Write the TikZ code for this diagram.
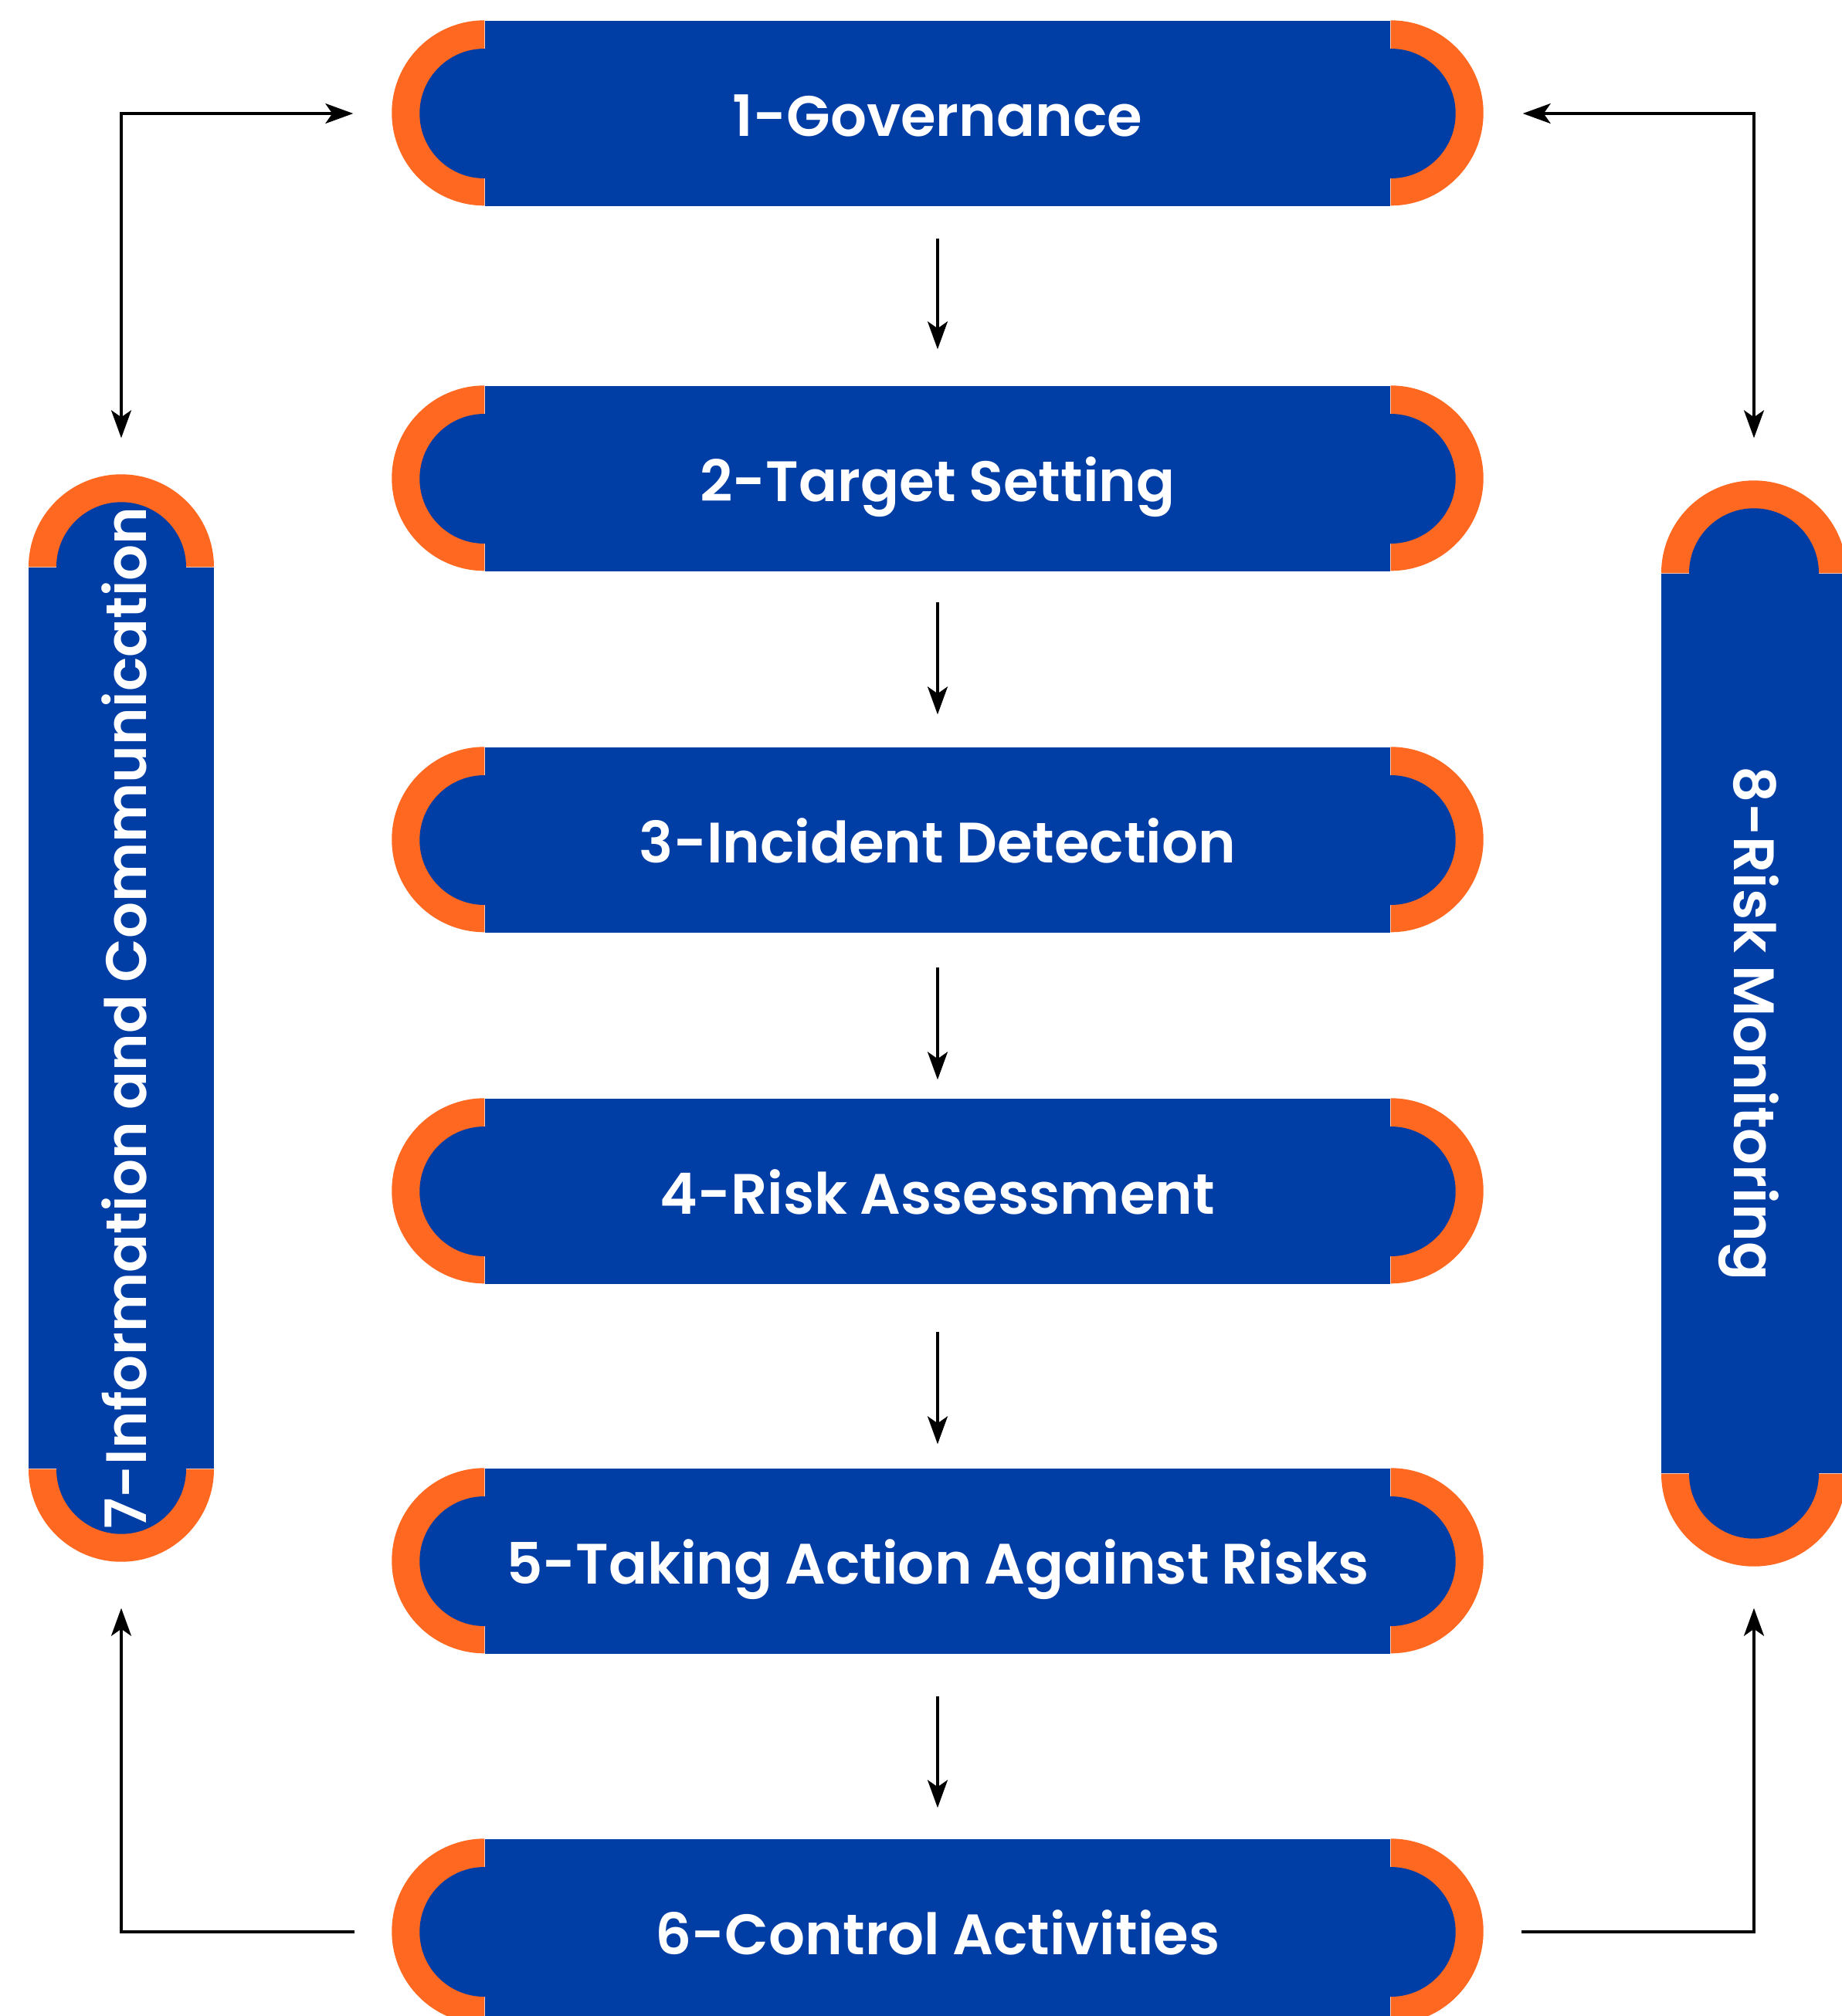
\documentclass[tikz,border=0pt]{standalone}
\usepackage{fontspec}
\setmainfont{Poppins}[BoldFont={Poppins SemiBold}, BoldFeatures={WordSpace=0.9}]
\usetikzlibrary{arrows.meta,calc,backgrounds}
\definecolor{blu}{RGB}{0,61,165}
\definecolor{orng}{RGB}{255,104,32}
\newcommand{\pilllabel}[1]{\makebox[0pt]{#1}}
\begin{document}
\begin{tikzpicture}[
  pilltext/.style={text=white, inner sep=0pt, text height=16.5pt, text depth=0pt,
    font=\fontsize{21pt}{25pt}\selectfont\bfseries},
  hpill/.style={rectangle, fill=blu, pilltext, minimum width=11.72cm, minimum height=2.4cm},
  vpill/.style={rectangle, fill=blu, pilltext, minimum height=2.4cm},
  tip/.tip={Stealth[length=0.36cm,width=0.26cm,inset=0.09cm]},
  conn/.style={draw=black, line width=0.95pt, -tip},
  bothconn/.style={conn, tip-tip},
]
\useasboundingbox (0,0) rectangle (23.85,-26.11);

% central column of steps
\node[hpill] (p1) at (12.14,-1.47) {\pilllabel{1-Governance}};
\node[hpill] (p2) at (12.14,-6.20) {\pilllabel{2-Target Setting}};
\node[hpill] (p3) at (12.14,-10.88) {\pilllabel{3-Incident Detection}};
\node[hpill] (p4) at (12.14,-15.43) {\pilllabel{4-Risk Assessment}};
\node[hpill] (p5) at (12.14,-20.22) {\pilllabel{5-Taking Action Against Risks}};
\node[hpill] (p6) at (12.14,-25.02) {\pilllabel{6-Control Activities}};

% side columns (rotated: l7 reads upward, r8 reads downward)
\node[vpill, rotate=90, minimum width=11.67cm, text height=18.7pt] (l7) at (1.57,-13.185)
  {\pilllabel{7-Information and Communication}};
\node[vpill, rotate=-90, minimum width=11.65cm, text height=14.7pt] (r8) at (22.71,-13.255)
  {\pilllabel{8-Risk Monitoring}};

\begin{scope}[on background layer]
  \fill[white] (0,0) rectangle (23.85,-26.11);
  % rounded orange-trimmed ends of the horizontal steps
  \foreach \n in {p1,p2,p3,p4,p5,p6}{
    \fill[orng] (\n.north west) arc[start angle=90,end angle=270,radius=1.2cm] -- cycle;
    \fill[blu] (\n.west) circle[radius=0.84cm];
    \fill[orng] (\n.north east) arc[start angle=90,end angle=-90,radius=1.2cm] -- cycle;
    \fill[blu] (\n.east) circle[radius=0.84cm];
  }
  % rounded ends of the vertical steps
  \foreach \t/\b in {l7.east/l7.west, r8.west/r8.east}{
    \fill[orng] ($(\t)+(-1.2,0)$) arc[start angle=180,end angle=0,radius=1.2cm] -- cycle;
    \fill[blu] (\t) circle[radius=0.84cm];
    \fill[orng] ($(\b)+(-1.2,0)$) arc[start angle=180,end angle=360,radius=1.2cm] -- cycle;
    \fill[blu] (\b) circle[radius=0.84cm];
  }
\end{scope}

% flow down the central column
\foreach \a/\b/\s/\e in {p1/p2/0.41/0.47, p2/p3/0.39/0.42, p3/p4/0.44/0.24,
                          p4/p5/0.61/0.31, p5/p6/0.54/0.40}{
  \draw[conn, shorten <=\s cm, shorten >=\e cm] (\a.south) -- (\b.north);
}

% feedback loops
\coordinate (tl) at ([xshift=-1.70cm]p1.west);
\coordinate (tr) at ([xshift=1.71cm]p1.east);
\coordinate (bl) at ([xshift=-1.68cm]p6.west);
\coordinate (br) at ([xshift=1.69cm]p6.east);
\draw[bothconn] (tl) -| ([yshift=1.67cm]l7.east);
\draw[bothconn] (tr) -| ([yshift=1.75cm]r8.west);
\draw[conn] (bl) -| ([yshift=-1.80cm]l7.west);
\draw[conn] (br) -| ([yshift=-1.74cm]r8.east);
\end{tikzpicture}
\end{document}
